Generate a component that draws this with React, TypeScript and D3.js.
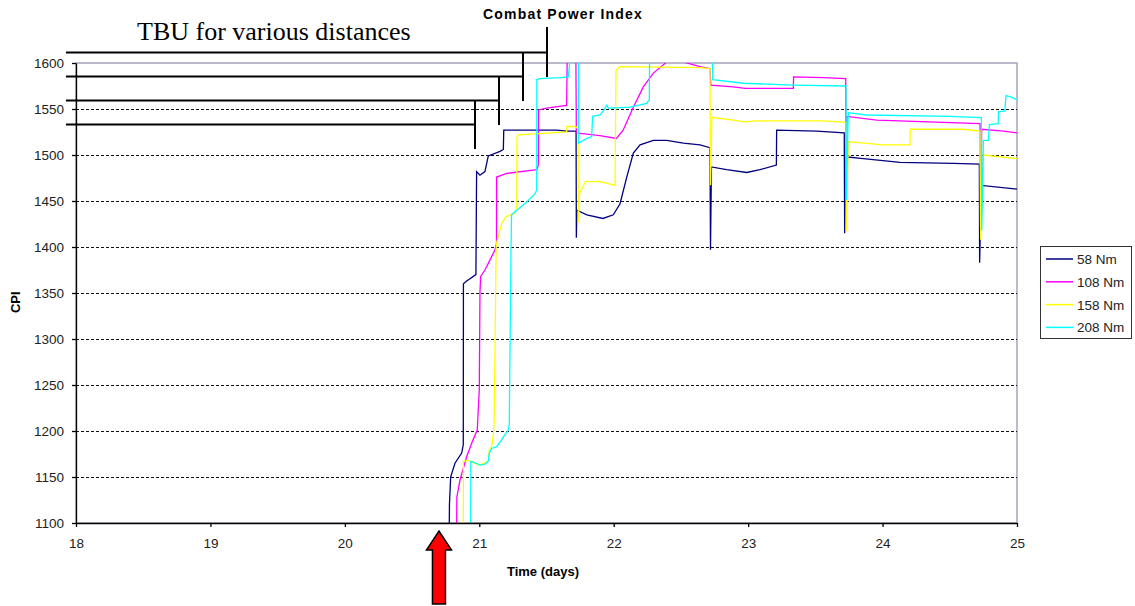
import { useEffect, useRef } from "react";
import * as d3 from "d3";

// axis ticks
const xTicks = [18, 19, 20, 21, 22, 23, 24, 25];
const yTicks = [1100, 1150, 1200, 1250, 1300, 1350, 1400, 1450, 1500, 1550, 1600];

// series (day, CPI); values above 1600 run off the plot
const nm58: [number, number][] = [
  [20.777, 1100], [20.778, 1120], [20.787, 1150], [20.819, 1165], [20.869, 1176], [20.881, 1185],
  [20.882, 1360], [20.906, 1363], [20.975, 1370], [20.98, 1482], [21.005, 1478], [21.042, 1482],
  [21.067, 1499], [21.154, 1504], [21.179, 1506], [21.182, 1527], [21.576, 1527], [21.65, 1526],
  [21.72, 1526], [21.722, 1410], [21.726, 1440], [21.8, 1435], [21.92, 1431], [21.997, 1435],
  [22.047, 1447], [22.097, 1476], [22.146, 1502], [22.196, 1511], [22.295, 1516], [22.394, 1516],
  [22.518, 1513], [22.642, 1511], [22.716, 1508], [22.72, 1397], [22.727, 1487], [22.84, 1484],
  [22.99, 1481], [23.088, 1484], [23.21, 1489], [23.212, 1527], [23.51, 1526], [23.715, 1524],
  [23.718, 1415], [23.725, 1498], [23.857, 1496], [24.13, 1492], [24.526, 1491], [24.72, 1490],
  [24.722, 1383], [24.735, 1467], [25.0, 1463],
];

const nm108: [number, number][] = [
  [20.832, 1100], [20.833, 1128], [20.857, 1147], [20.906, 1172], [20.944, 1187], [20.985, 1201],
  [21.0, 1245], [21.005, 1350], [21.01, 1368], [21.042, 1375], [21.08, 1386], [21.117, 1397],
  [21.128, 1404], [21.129, 1476], [21.204, 1480], [21.427, 1484], [21.44, 1489], [21.441, 1549],
  [21.5, 1551], [21.65, 1554], [21.655, 1620], [21.718, 1620], [21.722, 1524], [21.75, 1523.5],
  [21.898, 1521], [22.02, 1518], [22.07, 1527], [22.146, 1552], [22.22, 1574], [22.295, 1589],
  [22.394, 1601], [22.52, 1601], [22.642, 1596], [22.716, 1594], [22.722, 1576], [22.89, 1574],
  [22.977, 1572.5], [23.336, 1572.5], [23.338, 1585], [23.56, 1584], [23.726, 1583], [23.728, 1450],
  [23.735, 1542], [23.956, 1538], [24.725, 1534], [24.728, 1422], [24.737, 1528], [24.9, 1526],
  [25.0, 1524],
];

const nm158: [number, number][] = [
  [20.881, 1100], [20.882, 1167], [20.918, 1168], [20.95, 1166], [21.0, 1163], [21.04, 1165],
  [21.067, 1168], [21.074, 1179], [21.092, 1183], [21.105, 1197], [21.11, 1208], [21.117, 1288],
  [21.125, 1397], [21.128, 1404], [21.167, 1426], [21.2, 1433], [21.266, 1437], [21.279, 1444],
  [21.28, 1520], [21.29, 1522], [21.65, 1525], [21.652, 1531], [21.712, 1531], [21.735, 1529],
  [21.737, 1426], [21.745, 1458], [21.79, 1471], [21.9, 1471], [22.01, 1467], [22.017, 1592],
  [22.047, 1596], [22.642, 1595], [22.716, 1594], [22.72, 1467], [22.73, 1541], [22.89, 1538],
  [22.977, 1536], [23.06, 1537], [23.56, 1537], [23.728, 1535.5], [23.731, 1417], [23.745, 1514.5],
  [24.005, 1511], [24.204, 1511], [24.206, 1528], [24.6, 1528], [24.725, 1526], [24.73, 1408],
  [24.75, 1500], [25.0, 1496],
];

const nm208: [number, number][] = [
  [20.936, 1100], [20.937, 1167], [20.968, 1165.5], [21.005, 1163], [21.042, 1164], [21.067, 1167],
  [21.074, 1176], [21.092, 1181], [21.13, 1183], [21.154, 1188], [21.191, 1196], [21.216, 1201],
  [21.223, 1207], [21.236, 1397], [21.24, 1435], [21.279, 1440], [21.353, 1449], [21.415, 1458],
  [21.427, 1462], [21.428, 1582], [21.45, 1583], [21.6, 1584], [21.662, 1585], [21.687, 1620],
  [21.738, 1620], [21.74, 1513], [21.8, 1518], [21.836, 1520], [21.843, 1542], [21.898, 1543.5],
  [21.928, 1549], [21.948, 1554], [21.96, 1551], [22.12, 1552], [22.245, 1556], [22.265, 1560],
  [22.267, 1620], [22.734, 1620], [22.736, 1582], [22.965, 1578], [23.336, 1576], [23.728, 1575],
  [23.73, 1451], [23.745, 1546], [23.88, 1543.5], [24.5, 1542], [24.735, 1540.6], [24.738, 1418],
  [24.75, 1516], [24.787, 1516], [24.795, 1533], [24.86, 1534], [24.862, 1547], [24.91, 1548],
  [24.918, 1564.5], [24.948, 1563.5], [25.0, 1560],
];

const seriesNames = ["58 Nm", "108 Nm", "158 Nm", "208 Nm"];
const seriesData = [nm58, nm108, nm158, nm208];
const seriesColors = ["#000080", "#ff00ff", "#ffff00", "#00ffff"];

const arrowDay = 20.7;

function CpiChart() {
  const ref = useRef<SVGSVGElement>(null);

  useEffect(() => {
    const width = 1135;
    const height = 606;
    const left = 76, right = 1017, top = 63, bottom = 523;
    const font = "Arial, 'Liberation Sans', sans-serif";

    const svg = d3.select(ref.current);
    svg.selectAll("*").remove();
    svg.attr("width", width).attr("height", height);

    const x = d3.scaleLinear().domain([18, 25]).range([left, right]);
    const y = d3.scaleLinear().domain([1100, 1600]).range([bottom, top]);

    // plot frame (grey top/right like Excel)
    svg.append("rect")
      .attr("x", left).attr("y", top)
      .attr("width", right - left).attr("height", bottom - top)
      .attr("fill", "#fff")
      .attr("stroke", "#a4a4bc")
      .attr("stroke-width", 1.5);

    // dashed gridlines
    svg.append("g")
      .attr("shape-rendering", "crispEdges")
      .selectAll("line")
      .data(yTicks.filter(v => v > 1100 && v < 1600))
      .join("line")
      .attr("x1", left).attr("x2", right)
      .attr("y1", d => y(d) + 0.5).attr("y2", d => y(d) + 0.5)
      .attr("stroke", "#111")
      .attr("stroke-dasharray", "3,2");

    // series
    svg.append("clipPath").attr("id", "plotClip")
      .append("rect")
      .attr("x", left).attr("y", top)
      .attr("width", right - left).attr("height", bottom - top);

    const line = d3.line<[number, number]>()
      .x(d => x(d[0]))
      .y(d => y(d[1]));

    svg.append("g")
      .attr("clip-path", "url(#plotClip)")
      .selectAll("path")
      .data(seriesData)
      .join("path")
      .attr("d", d => line(d))
      .attr("fill", "none")
      .attr("stroke", (d, i) => seriesColors[i])
      .attr("stroke-width", 1.3);

    // axes
    const yAxis = svg.append("g")
      .attr("transform", `translate(${left},0)`)
      .call(d3.axisLeft(y).tickValues(yTicks).tickFormat(d3.format("d")).tickSize(4).tickSizeOuter(0).tickPadding(8));
    const xAxis = svg.append("g")
      .attr("transform", `translate(0,${bottom})`)
      .call(d3.axisBottom(x).tickValues(xTicks).tickFormat(d3.format("d")).tickSize(4).tickSizeOuter(0).tickPadding(11));
    [yAxis, xAxis].forEach(g => {
      g.selectAll("path,line").attr("stroke", "#000").attr("stroke-width", 1.3);
      g.selectAll("text")
        .attr("fill", "#222")
        .style("font-family", font)
        .style("font-size", "13.5px");
    });

    // axis titles
    svg.append("text")
      .attr("x", 543).attr("y", 576)
      .attr("text-anchor", "middle")
      .style("font-family", font).style("font-size", "13px").style("font-weight", "bold")
      .text("Time (days)");
    svg.append("text")
      .attr("transform", `translate(20,${y(1340)}) rotate(-90)`)
      .attr("text-anchor", "middle")
      .style("font-family", font).style("font-size", "13px").style("font-weight", "bold")
      .text("CPI");

    // legend
    const lg = svg.append("g");
    lg.append("rect")
      .attr("x", 1040.5).attr("y", 246.5)
      .attr("width", 91).attr("height", 92)
      .attr("fill", "#fff").attr("stroke", "#333");
    seriesNames.forEach((name, i) => {
      const ly = 259 + i * 22.8;
      lg.append("line")
        .attr("x1", 1046).attr("x2", 1073)
        .attr("y1", ly).attr("y2", ly)
        .attr("stroke", seriesColors[i]).attr("stroke-width", 1.5);
      lg.append("text")
        .attr("x", 1077).attr("y", ly + 5)
        .attr("fill", "#222")
        .style("font-family", font).style("font-size", "13.5px")
        .text(name);
    });

    // titles / annotations
    svg.append("text")
      .attr("x", 137).attr("y", 40)
      .style("font-family", "'Times New Roman', 'Liberation Serif', serif")
      .style("font-size", "26px")
      .text("TBU for various distances");
    svg.append("text")
      .attr("x", 563).attr("y", 19)
      .attr("text-anchor", "middle")
      .style("font-family", font).style("font-size", "14px").style("font-weight", "bold")
      .style("letter-spacing", "1.2px")
      .text("Combat Power Index");

    // TBU brackets
    const brackets = [
      { x: 547, y: 52.5, y0: 27 },
      { x: 523, y: 76.5, y0: 52 },
      { x: 499, y: 100.5, y0: 76 },
      { x: 475, y: 124.5, y0: 100 },
    ];
    const br = svg.append("g").attr("stroke", "#000").attr("stroke-width", 2);
    brackets.forEach(b => {
      br.append("line").attr("x1", 66).attr("x2", b.x).attr("y1", b.y).attr("y2", b.y);
      br.append("line").attr("x1", b.x).attr("x2", b.x).attr("y1", b.y0).attr("y2", b.y + 24.5);
    });

    // red arrow pointing at the start of the transients
    const ax = x(arrowDay);
    const tipY = 531;
    const arrow = d3.path();
    arrow.moveTo(ax, tipY);
    arrow.lineTo(ax + 12.5, tipY + 19);
    arrow.lineTo(ax + 6.5, tipY + 19);
    arrow.lineTo(ax + 6.5, 604);
    arrow.lineTo(ax - 6.5, 604);
    arrow.lineTo(ax - 6.5, tipY + 19);
    arrow.lineTo(ax - 12.5, tipY + 19);
    arrow.closePath();
    svg.append("path")
      .attr("d", arrow.toString())
      .attr("fill", "#ff0000")
      .attr("stroke", "#000")
      .attr("stroke-width", 1.5)
      .attr("stroke-linejoin", "miter");
  }, []);

  return <svg ref={ref} style={{ position: "absolute", left: 0, top: 0, display: "block" }}></svg>;
}

export default function App() {
  return <CpiChart />;
}
